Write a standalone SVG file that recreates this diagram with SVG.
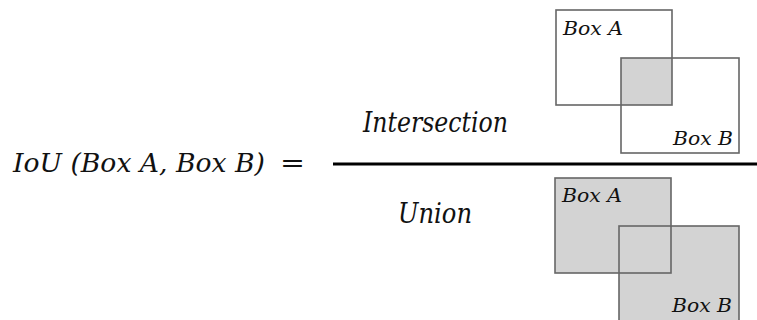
<svg xmlns="http://www.w3.org/2000/svg" width="757" height="320" viewBox="0 0 757 320">
<style>
text{font-family:"DejaVu Serif",serif;fill:#111}
.t{font-style:italic}
.lbl{font-style:italic;font-size:18px}
.box{fill:none;stroke:#666;stroke-width:1.6}
.fill{fill:#d3d3d3;stroke:none}
</style>
<rect width="757" height="320" fill="#fff"/>
<g id="formula">
<text class="t" x="13" y="172" font-size="26" textLength="252" lengthAdjust="spacingAndGlyphs">IoU (Box A, Box B)</text>
<text x="280" y="172" font-size="26" textLength="25" lengthAdjust="spacingAndGlyphs">=</text>
</g>
<g id="fraction">
<text class="t" x="363" y="132" font-size="28" textLength="145" lengthAdjust="spacingAndGlyphs">Intersection</text>
<line x1="333" y1="164" x2="757" y2="164" stroke="#000" stroke-width="3.2"/>
<text class="t" x="398" y="223" font-size="27" textLength="74" lengthAdjust="spacingAndGlyphs">Union</text>
</g>
<g id="intersection">
<rect class="fill" x="621" y="58" width="51" height="47"/>
<rect class="box" x="556" y="10" width="116" height="95"/>
<rect class="box" x="621" y="58" width="118" height="95"/>
<text class="lbl" x="563" y="35" textLength="60" lengthAdjust="spacingAndGlyphs">Box A</text>
<text class="lbl" x="673" y="145" textLength="60" lengthAdjust="spacingAndGlyphs">Box B</text>
</g>
<g id="union">
<rect class="fill" x="555" y="178" width="116" height="95"/>
<rect class="fill" x="619" y="226" width="120" height="96"/>
<rect class="box" x="555" y="178" width="116" height="95"/>
<rect class="box" x="619" y="226" width="120" height="96"/>
<text class="lbl" x="562" y="202" textLength="60" lengthAdjust="spacingAndGlyphs">Box A</text>
<text class="lbl" x="672" y="312" textLength="60" lengthAdjust="spacingAndGlyphs">Box B</text>
</g>
</svg>
